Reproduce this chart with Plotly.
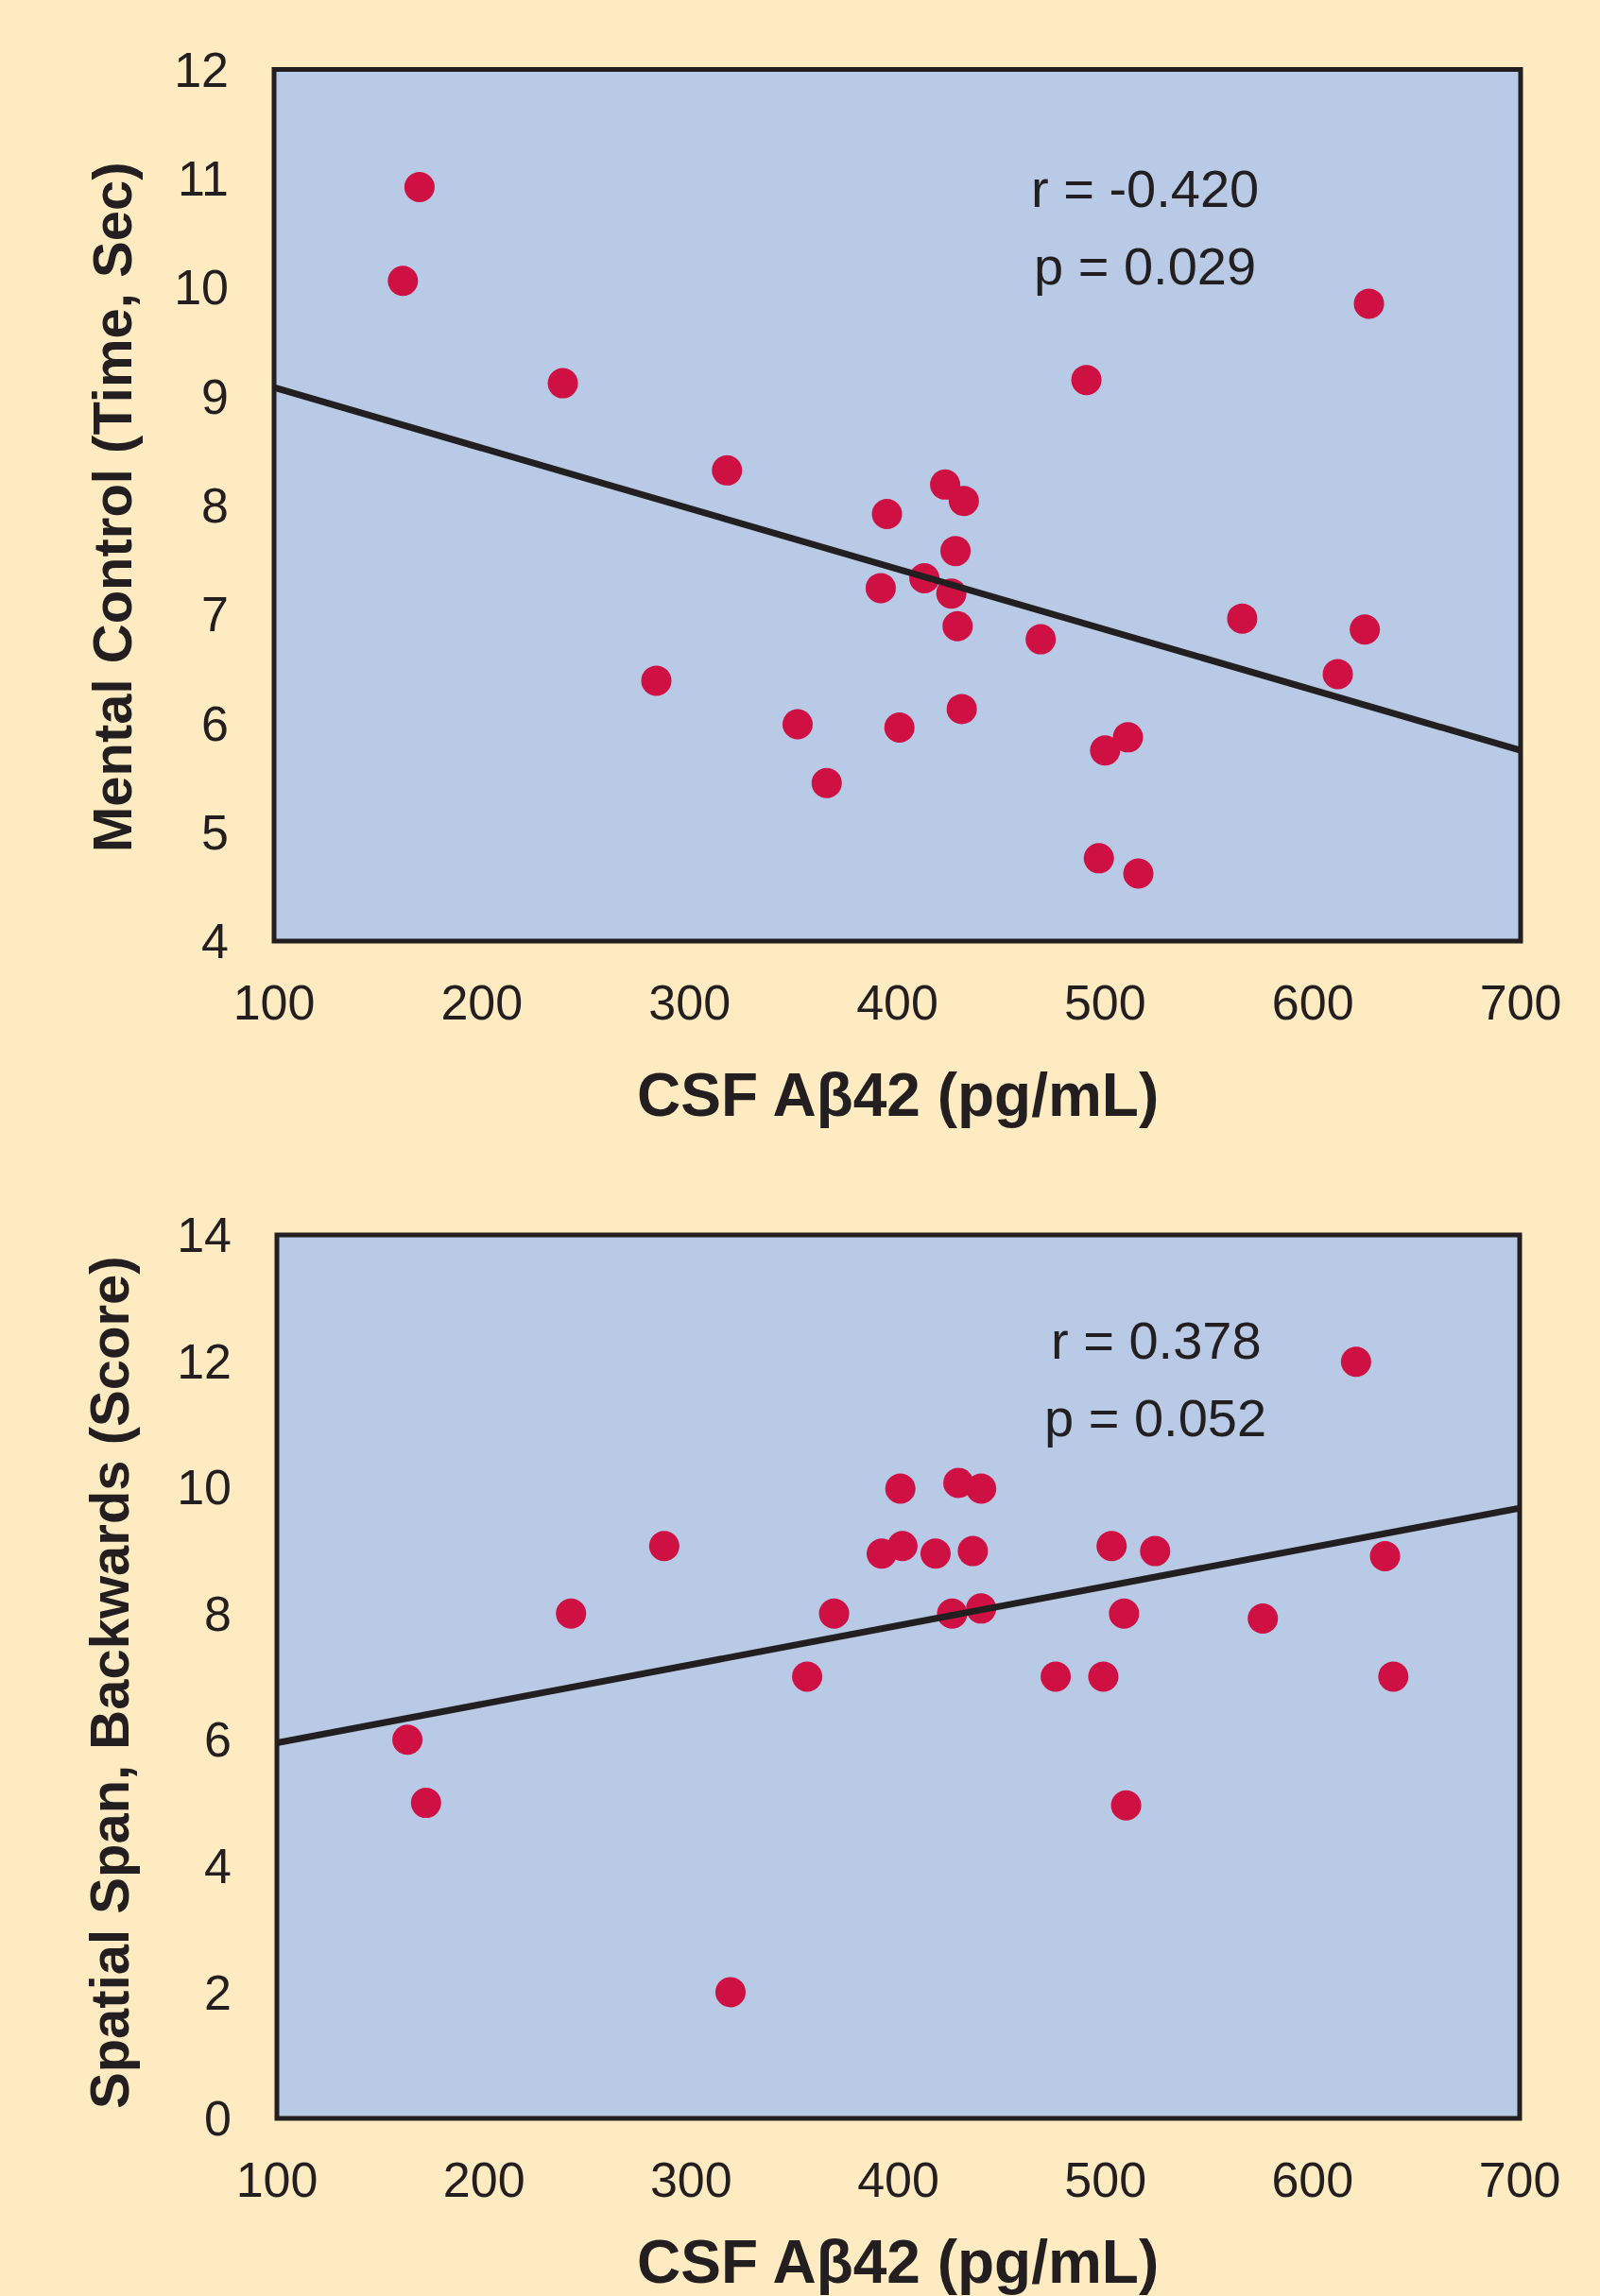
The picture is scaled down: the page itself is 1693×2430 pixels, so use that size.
import plotly.graph_objects as go
from plotly.subplots import make_subplots

# ---- data ----
mc_x = [170, 162, 239, 318, 284, 352, 366, 395, 392, 401, 413, 423, 432, 428,
        426, 429, 431, 469, 491, 500, 511, 497, 516, 566, 612, 625, 627]
mc_y = [10.92, 10.06, 9.12, 8.32, 6.39, 5.99, 5.45, 7.92, 7.24, 5.96, 7.33, 8.19,
        8.04, 7.58, 7.19, 6.89, 6.13, 6.77, 9.15, 5.75, 5.87, 4.76, 4.62, 6.96,
        6.45, 6.86, 9.85]
mc_fit_x = [100, 700]
mc_fit_y = [9.08, 5.75]

ss_x = [163, 172, 242, 287, 319, 356, 369, 392, 401, 402, 418, 429, 440, 436,
        426, 440, 476, 499, 503, 509, 510, 524, 576, 621, 635, 639]
ss_y = [6, 5, 8, 9.07, 2, 7, 8, 8.95, 9.98, 9.07, 8.95, 10.07, 9.98, 8.99,
        8, 8.08, 7, 7, 9.07, 8, 4.96, 8.99, 7.92, 11.99, 8.91, 7]
ss_fit_x = [100, 700]
ss_fit_y = [5.95, 9.67]

x_ticks = [100, 200, 300, 400, 500, 600, 700]
mc_y_ticks = [4, 5, 6, 7, 8, 9, 10, 11, 12]
ss_y_ticks = [0, 2, 4, 6, 8, 10, 12, 14]

x_title = "CSF Aβ42 (pg/mL)"
mc_y_title = "Mental Control (Time, Sec)"
ss_y_title = "Spatial Span, Backwards (Score)"
mc_stats = ["r = -0.420", "p = 0.029"]
ss_stats = ["r = 0.378", "p = 0.052"]

# ---- styles ----
BG = "#FFEBC1"
PLOT_BG = "#B8CAE6"
DOT = "#CE1043"
INK = "#231F20"
FONT = "Liberation Sans, Arial, Helvetica, sans-serif"

W, H = 1693, 2430

fig = make_subplots(rows=2, cols=1)

fig.add_trace(go.Scatter(x=mc_x, y=mc_y, mode="markers",
                         marker=dict(color=DOT, size=32, line=dict(width=0)),
                         showlegend=False), row=1, col=1)
fig.add_trace(go.Scatter(x=mc_fit_x, y=mc_fit_y, mode="lines",
                         line=dict(color=INK, width=7), showlegend=False),
              row=1, col=1)
fig.add_trace(go.Scatter(x=ss_x, y=ss_y, mode="markers",
                         marker=dict(color=DOT, size=32, line=dict(width=0)),
                         showlegend=False), row=2, col=1)
fig.add_trace(go.Scatter(x=ss_fit_x, y=ss_fit_y, mode="lines",
                         line=dict(color=INK, width=7), showlegend=False),
              row=2, col=1)

tick_font = dict(family=FONT, size=52, color=INK)


def px_x(p):
    return p / W


def px_y(p):
    return 1 - p / H


axis_common = dict(showgrid=False, zeroline=False, showline=False,
                   ticks="", tickfont=tick_font, automargin=False)

fig.update_layout(
    xaxis=dict(domain=[px_x(290), px_x(1609)], range=[100, 700],
               tickvals=x_ticks, ticklabelstandoff=30, **axis_common),
    yaxis=dict(domain=[px_y(996), px_y(73.5)], range=[4, 12],
               tickvals=mc_y_ticks, ticklabelstandoff=47, **axis_common),
    xaxis2=dict(domain=[px_x(293), px_x(1608)], range=[100, 700],
                tickvals=x_ticks, ticklabelstandoff=30, **axis_common),
    yaxis2=dict(domain=[px_y(2242), px_y(1307)], range=[0, 14],
                tickvals=ss_y_ticks, ticklabelstandoff=47, **axis_common),
)

# frames
for xr, yr in (("x", "y"), ("x2", "y2")):
    fig.add_shape(type="rect", xref=f"{xr} domain", yref=f"{yr} domain",
                  x0=0, x1=1, y0=0, y1=1, line=dict(color=INK, width=5),
                  fillcolor="rgba(0,0,0,0)", layer="above")

ann = []
stat_font = dict(family=FONT, size=56, color=INK)
ann.append(dict(x=px_x(1211), y=px_y(199), text=mc_stats[0]))
ann.append(dict(x=px_x(1211), y=px_y(282), text=mc_stats[1]))
ann.append(dict(x=px_x(1223), y=px_y(1418), text=ss_stats[0]))
ann.append(dict(x=px_x(1222), y=px_y(1500), text=ss_stats[1]))
for a in ann:
    a.update(xref="paper", yref="paper", xanchor="center", yanchor="middle",
             showarrow=False, font=stat_font)

title_font = dict(family=FONT, size=64, color=INK)
ytitle_font = dict(family=FONT, size=58, color=INK)
titles = [
    dict(x=px_x(950), y=px_y(1159), text=f"<b>{x_title}</b>", textangle=0,
         font=title_font),
    dict(x=px_x(950), y=px_y(2394), text=f"<b>{x_title}</b>", textangle=0,
         font=title_font),
    dict(x=px_x(118), y=px_y(537), text=f"<b>{mc_y_title}</b>", textangle=-90,
         font=ytitle_font),
    dict(x=px_x(115), y=px_y(1781), text=f"<b>{ss_y_title}</b>", textangle=-90,
         font=ytitle_font),
]
for a in titles:
    a.update(xref="paper", yref="paper", xanchor="center", yanchor="middle",
             showarrow=False)
ann.extend(titles)

fig.update_layout(
    width=W, height=H,
    margin=dict(l=0, r=0, t=0, b=0, autoexpand=False),
    paper_bgcolor=BG, plot_bgcolor=PLOT_BG,
    annotations=ann,
    showlegend=False,
)

fig.write_html("out.html",
               config={"displayModeBar": False},
               post_script="document.body.style.margin='0';"
                           "document.body.style.background='" + BG + "';")
